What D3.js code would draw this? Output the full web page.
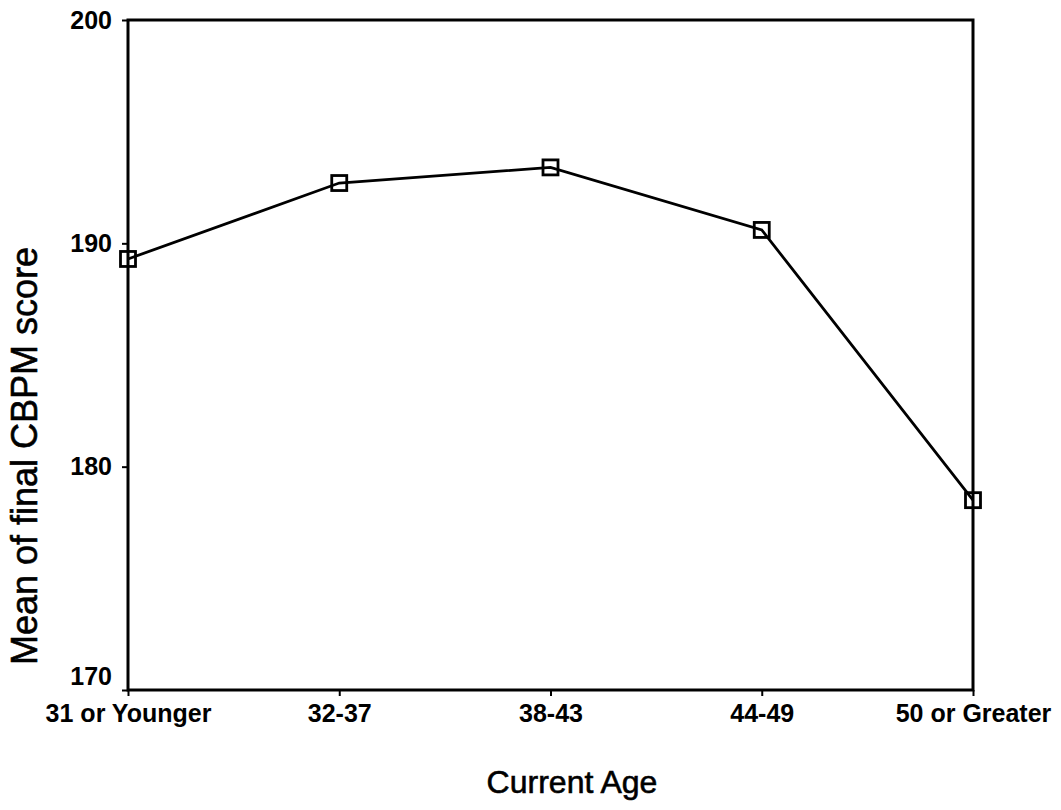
<!DOCTYPE html>
<html>
<head>
<meta charset="utf-8">
<title>Mean of final CBPM score by current age</title>
<script src="https://cdnjs.cloudflare.com/ajax/libs/d3/7.8.5/d3.min.js"></script>
<style>
body{
margin:0;
background:#fff
}
svg text{
font-family:"Liberation Sans", Arial, sans-serif;
fill:#000
}
.tick text{
font-weight:bold
}
.title{
stroke:#000;
stroke-width:0.6px
}
</style>
</head>
<body>
<svg width="1061" height="810"></svg>

<script>

// values
var ageGroups = ['31 or Younger', '32-37', '38-43', '44-49', '50 or Greater']
var meanScores = [189.3, 192.7, 193.4, 190.6, 178.5]
var yTicks = [170, 180, 190, 200]

var svg = d3.select('svg')
var plotLeft = 128, plotRight = 973, plotTop = 20, plotBottom = 690

var x = d3.scalePoint().domain(ageGroups).range([plotLeft, plotRight])
var y = d3.scaleLinear().domain([170, 200]).range([plotBottom, plotTop])

// frame
svg.append('rect')
	.attr('x', plotLeft).attr('y', plotTop)
	.attr('width', plotRight - plotLeft).attr('height', plotBottom - plotTop)
	.attr('fill', 'none')
	.attr('stroke', '#000')
	.attr('stroke-width', 3)

const yAxis = svg.append('g')
	.attr('transform', 'translate(' + plotLeft + ',0)')
	.call(d3.axisLeft(y).tickValues(yTicks).tickSize(6).tickPadding(10))
yAxis.select('.domain').remove()
yAxis.selectAll('line').attr('stroke-width', 2)
yAxis.selectAll('text').style('font-size', '25px')
	.attr('dy', d => d == 170 ? '-0.22em' : '0.32em')

const xAxis = svg.append('g')
	.attr('transform', 'translate(0,' + plotBottom + ')')
	.call(d3.axisBottom(x).tickSize(6).tickPadding(8))
xAxis.select('.domain').remove()
xAxis.selectAll('line').attr('stroke-width', 2)
xAxis.selectAll('text').style('font-size', '25px')

// axis titles
svg.append('text')
	.attr('class', 'title')
	.attr('x', 572).attr('y', 793)
	.attr('text-anchor', 'middle')
	.style('font-size', '32px')
	.text('Current Age')

svg.append('text')
	.attr('class', 'title')
	.attr('transform', 'translate(37,456) rotate(-90)')
	.attr('text-anchor', 'middle')
	.style('font-size', '36px')
	.text('Mean of final CBPM score')

// series
const line = d3.line()
	.x((d, i) => x(ageGroups[i]))
	.y(d => y(d))

svg.append('path')
	.datum(meanScores)
	.attr('d', line)
	.attr('fill', 'none')
	.attr('stroke', '#000')
	.attr('stroke-width', 2.8)

svg.append('g')
	.selectAll('rect')
	.data(meanScores)
	.join('rect')
	.attr('x', (d, i) => x(ageGroups[i]) - 7.5)
	.attr('y', d => y(d) - 7.5)
	.attr('width', 15)
	.attr('height', 15)
	.attr('fill', 'none')
	.attr('stroke', '#000')
	.attr('stroke-width', 2.8)

</script>
</body>
</html>
